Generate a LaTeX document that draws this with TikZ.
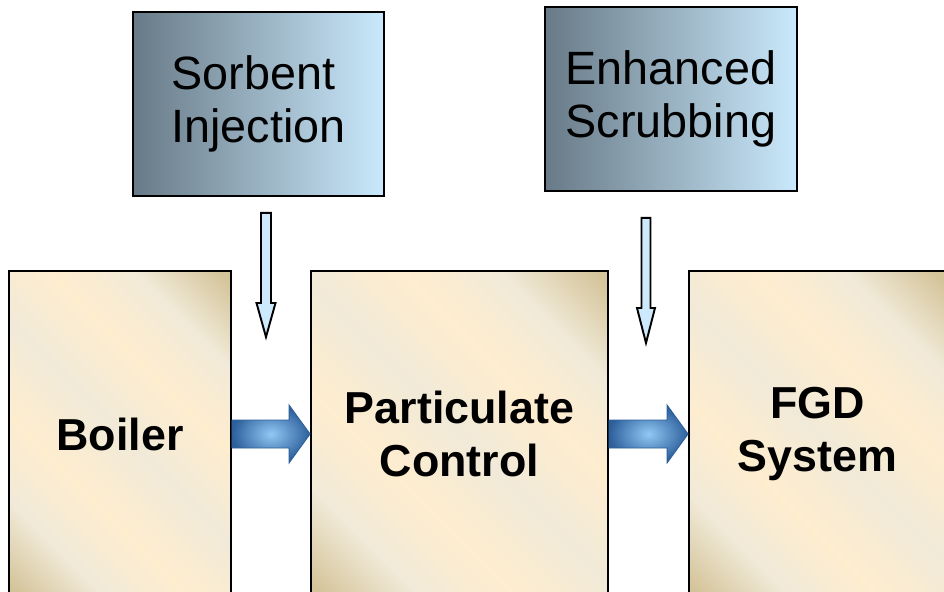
\documentclass[tikz,border=0pt]{standalone}
\usepackage{fontspec}
\setmainfont{Liberation Sans}
\usepackage{xcolor}
\usepackage{tikz}
\usetikzlibrary{calc}

\definecolor{slatedark}{RGB}{104,122,135}
\definecolor{slatelight}{RGB}{202,233,252}
\definecolor{tandark}{RGB}{212,196,154}
\definecolor{creamlight}{RGB}{254,237,207}
\definecolor{creampale}{RGB}{241,234,216}
\definecolor{flowdark}{RGB}{45,95,155}
\definecolor{flowlight}{RGB}{145,200,245}
\definecolor{feedfill}{RGB}{204,234,252}

\pgfdeclarehorizontalshading{tanbox}{100bp}{color(0bp)=(tandark); color(16bp)=(tandark); color(27bp)=(creampale); color(38bp)=(creamlight); color(50bp)=(creampale); color(62bp)=(creamlight); color(73bp)=(creampale); color(84bp)=(tandark); color(100bp)=(tandark)}

\begin{document}
\begin{tikzpicture}[x=0.02cm, y=-0.02cm,
        additive/.style={draw, line width=1.1pt, left color=slatedark, right color=slatelight, minimum height=3.68cm, align=left, font=\fontsize{26.6}{30}\selectfont},
        treat/.style={draw, line width=1.1pt, shade, shading=tanbox, shading angle=45, minimum height=6.52cm, align=center, font=\fontsize{25.5}{30}\selectfont\bfseries},
        flow/.style={draw=flowdark, line width=0.5pt, inner color=flowlight, outer color=flowdark},
        feed/.style={draw, line width=1.1pt, fill=feedfill}]
        \useasboundingbox (0,0) rectangle (944,592);

        % additives
        \node[additive, minimum width=5.02cm] (sorbent) at (258.5,104) {Sorbent\\Injection};
        \node[additive, minimum width=5.04cm] (scrubbing) at (671,99) {Enhanced\\Scrubbing};

        % process train
        \node[treat, minimum width=4.44cm] (boiler) at (120,434) {Boiler};
        \node[treat, minimum width=5.94cm] (particulate) at (459.5,434) {Particulate\\Control};
        \node[treat, minimum width=5.14cm] (fgd) at (817.5,434) {FGD\\System};

        % gas flow
        \draw[flow] ($(boiler.east)+(0,-14)$) -- ($(particulate.west)+(-21,-14)$) -- ($(particulate.west)+(-21,-29)$) -- (particulate.west) -- ($(particulate.west)+(-21,29)$) -- ($(particulate.west)+(-21,14)$) -- ($(boiler.east)+(0,14)$) -- cycle;
        \draw[flow] ($(particulate.east)+(0,-14)$) -- ($(fgd.west)+(-21,-14)$) -- ($(fgd.west)+(-21,-29)$) -- (fgd.west) -- ($(fgd.west)+(-21,29)$) -- ($(fgd.west)+(-21,14)$) -- ($(particulate.east)+(0,14)$) -- cycle;

        % sorbent feed
        \coordinate (sorbtop) at ($(sorbent.south)+(7.5,16)$);
        \coordinate (sorbtip) at (266,337);
        \draw[feed] ($(sorbtop)+(-5,0)$) -- ($(sorbtip)+(-5,-34)$) -- ($(sorbtip)+(-9.5,-34)$) -- (sorbtip) -- ($(sorbtip)+(9.5,-34)$) -- ($(sorbtip)+(5,-34)$) -- ($(sorbtop)+(5,0)$) -- cycle;

        % scrubbing feed
        \coordinate (scrubtop) at ($(scrubbing.south)+(-25,26)$);
        \coordinate (scrubtip) at (646,343);
        \draw[feed] ($(scrubtop)+(-4.5,0)$) -- ($(scrubtip)+(-4.5,-35)$) -- ($(scrubtip)+(-9,-35)$) -- (scrubtip) -- ($(scrubtip)+(9,-35)$) -- ($(scrubtip)+(4.5,-35)$) -- ($(scrubtop)+(4.5,0)$) -- cycle;

      \end{tikzpicture}
\end{document}
